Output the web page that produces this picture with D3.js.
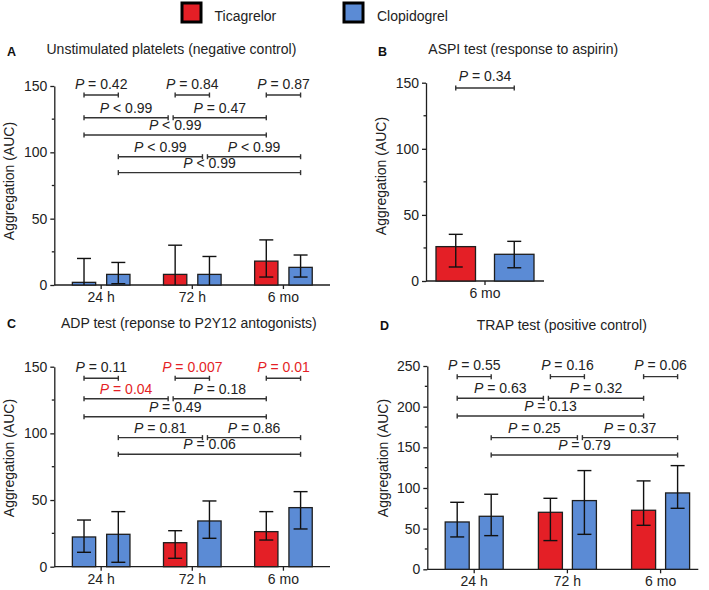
<!DOCTYPE html>
<html><head><meta charset="utf-8">
<script src="https://cdn.jsdelivr.net/npm/d3@7"></script>
<style>
body{margin:0;background:#fff;}
svg text{font-family:"Liberation Sans", Arial, Helvetica, sans-serif;}
</style></head><body>
<svg id="chart" width="709" height="590"></svg>
<script>
// ---------- DATA ----------
const drugs = ["Ticagrelor", "Clopidogrel"];
const timeGroups = ["24 h", "72 h", "6 mo"];
const aspiGroups = ["6 mo"];
// which drug each bar in a group shows (first 24 h bar drawn in blue in the source)
const barDrugs3 = [["Clopidogrel","Clopidogrel"],["Ticagrelor","Clopidogrel"],["Ticagrelor","Clopidogrel"]];
const barDrugs1 = [["Ticagrelor","Clopidogrel"]];

// Panel A: unstimulated platelets
const aMean  = [[2, 8], [8, 8], [18, 13.3]];
const aUpper = [[20, 17], [30, 21.5], [34, 22.6]];
const aLower = [[0, 1], [0, 0], [6, 6]];
const aTicks = [0, 50, 100, 150];
// Panel B: ASPI
const bMean  = [[26, 20.2]];
const bUpper = [[35.3, 30]];
const bLower = [[10.6, 10]];
const bTicks = [0, 50, 100, 150];
// Panel C: ADP
const cMean  = [[22.3, 24.3], [18, 34.3], [26.3, 44.3]];
const cUpper = [[35, 41.3], [27, 49.3], [41.3, 56.3]];
const cLower = [[10.8, 3.3], [6.3, 21.3], [20, 28.3]];
const cTicks = [0, 50, 100, 150];
// Panel D: TRAP
const dMean  = [[58.2, 65.2], [70.1, 84.5], [72.6, 93.9]];
const dUpper = [[82.4, 92.3], [87.3, 121.4], [108.7, 127.5]];
const dLower = [[39.8, 41.4], [35.3, 43], [54.1, 75]];
const dTicks = [0, 50, 100, 150, 200, 250];

// brackets: [fromGroup, fromBar, toGroup, toBar, yValue, label, significant]
const aBrackets = [
  [0,0,0,1,143.2,"= 0.42",false],[1,0,1,1,143.2,"= 0.84",false],[2,0,2,1,143.2,"= 0.87",false],
  [0,0,1,0,126.1,"< 0.99",false],[1,0,2,0,126.1,"= 0.47",false],
  [0,0,2,0,113.1,"< 0.99",false],
  [0,1,1,1,96.7,"< 0.99",false],[1,1,2,1,96.7,"< 0.99",false],
  [0,1,2,1,84.7,"< 0.99",false]
];
const bBrackets = [[0,0,0,1,146,"= 0.34",false]];
const cBrackets = [
  [0,0,0,1,141.3,"= 0.11",false],[1,0,1,1,141.3,"= 0.007",true],[2,0,2,1,141.3,"= 0.01",true],
  [0,0,1,0,126,"= 0.04",true],[1,0,2,0,126,"= 0.18",false],
  [0,0,2,0,112.5,"= 0.49",false],
  [0,1,1,1,96.8,"= 0.81",false],[1,1,2,1,96.8,"= 0.86",false],
  [0,1,2,1,84.3,"= 0.06",false]
];
const dBrackets = [
  [0,0,0,1,236.9,"= 0.55",false],[1,0,1,1,236.9,"= 0.16",false],[2,0,2,1,236.9,"= 0.06",false],
  [0,0,1,0,210.3,"= 0.63",false],[1,0,2,0,210.3,"= 0.32",false],
  [0,0,2,0,188.6,"= 0.13",false],
  [0,1,1,1,161.9,"= 0.25",false],[1,1,2,1,161.9,"= 0.37",false],
  [0,1,2,1,140.5,"= 0.79",false]
];

const panelLetters = ["A","B","C","D"];
const panelTitles = ["Unstimulated platelets (negative control)","ASPI test (response to aspirin)",
  "ADP test (reponse to P2Y12 antogonists)","TRAP test (positive control)"];
const yLabel = "Aggregation (AUC)";

// ---------- DRAWING ----------
const RED = "#e41f26", BLUE = "#5b8bd5", INK = "#1e1e1e", BR = "#333";
const drugColor = d3.scaleOrdinal().domain(drugs).range([RED, BLUE]);
const svg = d3.select("#chart");
const FS = 14;

// legend
const leg = svg.append("g");
const legX = [182, 344], legTX = [214.5, 377];
drugs.forEach((d,i)=>{
  leg.append("rect").attr("x",legX[i]).attr("y",3).attr("width",19).attr("height",19)
    .attr("fill",drugColor(d)).attr("stroke","#000").attr("stroke-width",3);
  leg.append("text").attr("x",legTX[i]).attr("y",21).attr("font-size",FS).attr("fill","#222").text(d);
});

function drawPanel(cfg){
  const g = svg.append("g");
  g.append("text").attr("x",cfg.letterX).attr("y",cfg.letterY).attr("font-size",12.5)
    .attr("font-weight","bold").attr("fill","#111").text(cfg.letter);
  g.append("text").attr("x",cfg.titleX).attr("y",cfg.titleY).attr("font-size",FS)
    .attr("fill","#222").text(cfg.title);

  const x = d3.scaleBand().domain(cfg.groups).range(cfg.band).padding(0);
  const y = d3.scaleLinear().domain([0, d3.max(cfg.ticks)]).range([cfg.y0, cfg.y1]);
  const barX = (gi,bi) => x(cfg.groups[gi]) + x.bandwidth()/2 + (bi===0 ? -(cfg.gap/2 + cfg.barW) : cfg.gap/2);
  const barC = (gi,bi) => barX(gi,bi) + cfg.barW/2;

  // y axis
  const ya = g.append("g").attr("transform",`translate(${cfg.ax},0)`)
    .call(d3.axisLeft(y).tickValues(cfg.ticks).tickSize(4).tickSizeOuter(0).tickPadding(3));
  const minor = cfg.ticks.slice(1).map((t,i)=>(t+cfg.ticks[i])/2);
  ya.selectAll(".minor").data(minor).enter().append("line").attr("class","minor")
    .attr("x1",-2.5).attr("x2",0).attr("y1",d=>y(d)).attr("y2",d=>y(d));
  ya.selectAll("line, path").attr("stroke",INK).attr("stroke-width",1.3);
  ya.selectAll("text").attr("font-size",FS).attr("fill","#222");
  ya.attr("font-family",null);

  // x axis
  const xa = g.append("g").attr("transform",`translate(0,${cfg.y0})`)
    .call(d3.axisBottom(x).tickSize(4).tickSizeOuter(0).tickPadding(3));
  xa.select(".domain").attr("d",`M${cfg.ax},0H${cfg.axEnd}`);
  xa.selectAll("line, path").attr("stroke",INK).attr("stroke-width",1.3);
  xa.selectAll("text").attr("font-size",FS).attr("fill","#222");
  xa.attr("font-family",null);

  // y label
  g.append("text").attr("transform",`translate(${cfg.ylabX},${cfg.ylabY}) rotate(-90)`)
    .attr("text-anchor","middle").attr("font-size",FS).attr("fill","#222").text(yLabel);

  // bars
  const bars = [];
  cfg.mean.forEach((row,gi)=>row.forEach((v,bi)=>bars.push({gi,bi,v,hi:cfg.upper[gi][bi],lo:cfg.lower[gi][bi],drug:cfg.drugsOf[gi][bi]})));
  g.selectAll(".bar").data(bars).enter().append("rect").attr("class","bar")
    .attr("x",d=>barX(d.gi,d.bi)).attr("y",d=>y(d.v))
    .attr("width",cfg.barW).attr("height",d=>y(0)-y(d.v))
    .attr("fill",d=>drugColor(d.drug)).attr("stroke",INK).attr("stroke-width",1.3);
  // error bars
  const eb = g.selectAll(".eb").data(bars).enter().append("g").attr("stroke","#111").attr("stroke-width",1.4);
  eb.append("line").attr("x1",d=>barC(d.gi,d.bi)).attr("x2",d=>barC(d.gi,d.bi))
    .attr("y1",d=>y(d.lo)).attr("y2",d=>y(d.hi));
  eb.append("line").attr("x1",d=>barC(d.gi,d.bi)-7).attr("x2",d=>barC(d.gi,d.bi)+7)
    .attr("y1",d=>y(d.hi)).attr("y2",d=>y(d.hi));
  eb.filter(d=>d.lo>0).append("line").attr("x1",d=>barC(d.gi,d.bi)-7).attr("x2",d=>barC(d.gi,d.bi)+7)
    .attr("y1",d=>y(d.lo)).attr("y2",d=>y(d.lo));

  // brackets
  const topRow = d3.max(cfg.brackets, b=>b[4]);
  cfg.brackets.forEach(b=>{
    const [g1,b1,g2,b2,yv,lab,sig] = b;
    let x1 = barC(g1,b1), x2 = barC(g2,b2);
    const joinsRight = cfg.brackets.some(o=>o!==b && o[4]===yv && o[0]===g2 && o[1]===b2);
    const joinsLeft = cfg.brackets.some(o=>o!==b && o[4]===yv && o[2]===g1 && o[3]===b1);
    if (joinsRight) x2 -= 7;
    if (joinsLeft) x1 -= 2;
    const yy = y(yv);
    const bg = g.append("g").attr("stroke",BR).attr("stroke-width",1.4);
    bg.append("line").attr("x1",x1).attr("x2",x2).attr("y1",yy).attr("y2",yy);
    bg.append("line").attr("x1",x1).attr("x2",x1).attr("y1",yy-2.5).attr("y2",yy+2.5);
    bg.append("line").attr("x1",x2).attr("x2",x2).attr("y1",yy-2.5).attr("y2",yy+2.5);
    const t = g.append("text").attr("x",(x1+x2)/2).attr("y",yy-(yv===topRow?6.5:5)).attr("text-anchor","middle")
      .attr("font-size",FS).attr("fill",sig?RED:"#222");
    t.append("tspan").attr("font-style","italic").text("P");
    t.append("tspan").text(" " + lab);
  });
}

drawPanel({letter:panelLetters[0],title:panelTitles[0],letterX:7,letterY:55.5,titleX:46.5,titleY:54,
  groups:timeGroups,drugsOf:barDrugs3,mean:aMean,upper:aUpper,lower:aLower,ticks:aTicks,brackets:aBrackets,
  ax:54.3,axEnd:330,band:[55.6,329],y0:285,y1:86,barW:23.3,gap:11,ylabX:14,ylabY:181});
drawPanel({letter:panelLetters[1],title:panelTitles[1],letterX:378,letterY:55.5,titleX:428.3,titleY:54,
  groups:aspiGroups,drugsOf:barDrugs1,mean:bMean,upper:bUpper,lower:bLower,ticks:bTicks,brackets:bBrackets,
  ax:426,axEnd:544,band:[426,544],y0:281,y1:82.7,barW:39.5,gap:19,ylabX:386,ylabY:176});
drawPanel({letter:panelLetters[2],title:panelTitles[2],letterX:7,letterY:328,titleX:61,titleY:328,
  groups:timeGroups,drugsOf:barDrugs3,mean:cMean,upper:cUpper,lower:cLower,ticks:cTicks,brackets:cBrackets,
  ax:54.3,axEnd:330,band:[55.6,329],y0:566.7,y1:366.7,barW:23.3,gap:11,ylabX:14,ylabY:458});
drawPanel({letter:panelLetters[3],title:panelTitles[3],letterX:380,letterY:330,titleX:476.7,titleY:330,
  groups:timeGroups,drugsOf:barDrugs3,mean:dMean,upper:dUpper,lower:dLower,ticks:dTicks,brackets:dBrackets,
  ax:427.3,axEnd:698.3,band:[427.6,707.2],y0:569.3,y1:366,barW:24,gap:10,ylabX:387.5,ylabY:458});
</script>
</body></html>
